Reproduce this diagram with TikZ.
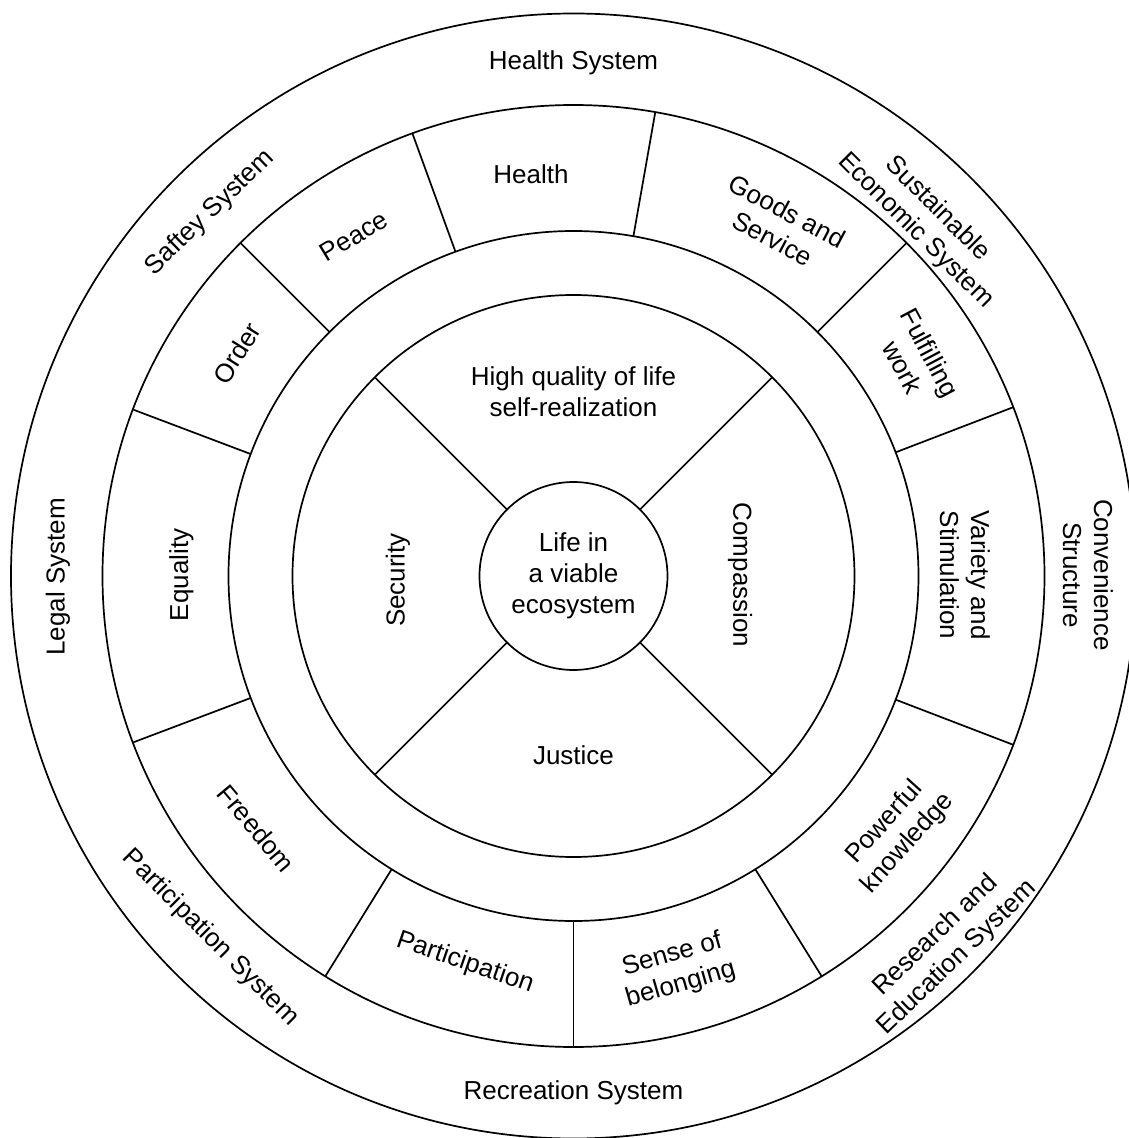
\documentclass[tikz,border=0pt]{standalone}
\usepackage{fontspec}
\setmainfont{Liberation Sans}
\begin{document}
\begin{tikzpicture}[x=1pt,y=1pt,
  ring/.style={line width=1.7pt},
  lbl/.style={font=\fontsize{26}{31}\selectfont, align=center, inner sep=0pt}]
\useasboundingbox (-573.5,-562) rectangle (554.5,576);
\fill[white] (-573.5,-562) rectangle (554.5,576);
% rings
\draw[ring] (0,0) circle (562.5);
\draw[ring] (0,0) circle (471);
\draw[ring] (0,0) circle (345);
\draw[ring] (0,0) circle (281);
% dividers of the value ring
\foreach \a in {80,110,135,159.3,200.7,238.2,270,301.8,339,21,45}
  \draw[ring] (\a:345) -- (\a:471);
% dividers of the inner ring
\foreach \a in {45,135,225,315}
  \draw[ring] (\a:94) -- (\a:281);
% core
\node[lbl, circle, draw, ring, minimum size=188pt] (core) at (0,0) {Life in\\a viable\\ecosystem};
% inner ring labels
\node[lbl] (hq) at (0,184) {High quality of life\\self-realization};
\node[lbl, rotate=90] (security) at (-175.5,-4) {Security};
\node[lbl, rotate=-90] (compassion) at (166.5,1) {Compassion};
\node[lbl] (justice) at (0,-179) {Justice};
% value ring labels
\node[lbl] (health) at (-42.5,402) {Health};
\node[lbl, rotate=-28] (goods) at (206.5,351) {Goods and\\Service};
\node[lbl, rotate=-62] (work) at (343,216) {Fulfilling\\work};
\node[lbl, rotate=-90] (variety) at (391.5,1) {Variety and\\Stimulation};
\node[lbl, rotate=48] (knowledge) at (323,-257) {Powerful\\knowledge};
\node[lbl, rotate=16] (belonging) at (103,-394) {Sense of\\belonging};
\node[lbl, rotate=-19] (participation) at (-108.5,-387) {Participation};
\node[lbl, rotate=-50] (freedom) at (-317,-252) {Freedom};
\node[lbl, rotate=90] (equality) at (-392,1) {Equality};
\node[lbl, rotate=58] (order) at (-336.5,223) {Order};
\node[lbl, rotate=31] (peace) at (-219.5,340) {Peace};
% system ring labels
\node[lbl] (healthsys) at (0,513) {Health System};
\node[lbl, rotate=-45] (econ) at (353,356) {Sustainable\\Economic System};
\node[lbl, rotate=-90] (conv) at (514.5,1) {Convenience\\Structure};
\node[lbl, rotate=44] (research) at (373,-370.7) {Research and\\Education System};
\node[lbl] (recreation) at (0,-517) {Recreation System};
\node[lbl, rotate=-45] (partsys) at (-363,-362) {Participation System};
\node[lbl, rotate=90] (legal) at (-515.5,-1) {Legal System};
\node[lbl, rotate=44] (safety) at (-363.5,363) {Saftey System};
\end{tikzpicture}
\end{document}
